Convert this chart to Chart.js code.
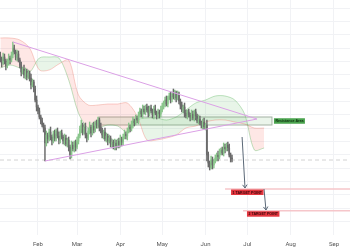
<!DOCTYPE html>
<html>
<head>
<meta charset="utf-8">
<script src="https://cdn.jsdelivr.net/npm/chart.js@4.4.1/dist/chart.umd.min.js"></script>
<style>
    html, body { margin: 0; padding: 0; background: #fff; }
    #wrap { width: 350px; height: 250px; }
</style>
</head>
<body>
<div id="wrap"><canvas id="chart"></canvas></div>
<script>
// Axe du temps (jour de l'année)
const monthLabels = ['Feb', 'Mar', 'Apr', 'May', 'Jun', 'Jul', 'Aug', 'Sep'];
const monthDays = [31, 59, 90, 120, 151, 181, 212, 243];
const viewFrom = 3.8;
const viewTo = 254.5;
const priceMin = 0;
const priceMax = 235;
const priceStep = 13.35;

// Bougies journalières
const firstDay = 4;
const firstOpen = 180;
const closes = [
    176, 172, 178, 174, 169, 173, 177, 175, 180, 187,
    183, 178, 181, 175, 170, 163, 166, 160, 164, 158,
    162, 157, 150, 153, 146, 135, 128, 124, 118, 114,
    110, 107, 92, 100, 96, 103, 98, 94, 101, 97,
    104, 99, 95, 102, 98, 94, 97, 91, 95, 88,
    80, 90, 86, 92, 88, 94, 99, 106, 110, 103,
    108, 100, 97, 104, 108, 102, 109, 105, 112, 110,
    115, 108, 104, 100, 103, 96, 99, 94, 97, 91,
    93, 88, 92, 89, 94, 90, 96, 93, 98, 101,
    99, 104, 108, 106, 111, 114, 112, 117, 115, 120,
    124, 121, 126, 123, 128, 125, 122, 127, 124, 120,
    126, 122, 119, 123, 121, 125, 129, 132, 135, 131,
    137, 139, 136, 141, 138, 142, 137, 140, 134, 130,
    125, 128, 122, 119, 123, 120, 118, 121, 117, 123,
    119, 114, 116, 112, 110, 113, 108, 110, 80, 72,
    68, 75, 70, 74, 77, 80, 78, 83, 85, 82,
    88, 86, 90, 87, 80, 77, 76
];
const wickHi = [
    3, 2, 4, 3, 2, 3, 4, 2, 3, 6,
    3, 2, 4, 3, 2, 3, 2, 4, 3, 2,
    3, 2, 4, 3, 2, 3, 4, 2, 3, 2,
    3, 2, 3, 4, 2, 3, 5, 2, 3, 4,
    2, 3, 4, 2, 3, 2, 4, 3, 2, 3,
    2, 4, 3, 2, 3, 4, 2, 3, 5, 2,
    3, 4, 2, 3, 5, 2, 3, 4, 2, 3,
    3, 2, 4, 3, 2, 4, 3, 2, 3, 2,
    3, 2, 4, 3, 2, 3, 4, 2, 3, 4,
    2, 3, 4, 2, 3, 4, 2, 3, 2, 3,
    3, 2, 4, 3, 2, 3, 4, 2, 3, 2,
    3, 4, 2, 3, 2, 4, 3, 2, 3, 4,
    2, 3, 4, 2, 5, 3, 2, 4, 3, 2,
    3, 2, 4, 3, 2, 3, 2, 4, 3, 2,
    3, 2, 4, 3, 2, 3, 4, 2, 5, 3,
    2, 4, 3, 2, 3, 2, 4, 3, 2, 3,
    4, 3, 2, 3, 4, 2, 3
];
const wickLo = [
    3, 4, 2, 3, 4, 2, 3, 4, 2, 3,
    2, 3, 4, 2, 3, 4, 2, 3, 4, 3,
    2, 3, 4, 2, 3, 2, 4, 3, 2, 3,
    2, 4, 18, 3, 4, 2, 3, 4, 2, 3,
    3, 2, 4, 3, 2, 3, 4, 2, 3, 4,
    4, 3, 2, 3, 4, 2, 3, 2, 4, 3,
    2, 3, 4, 2, 3, 4, 2, 3, 2, 3,
    3, 4, 2, 3, 4, 2, 3, 4, 2, 3,
    4, 2, 3, 4, 2, 3, 2, 4, 3, 2,
    3, 4, 2, 3, 2, 4, 3, 2, 3, 4,
    2, 3, 4, 2, 3, 2, 4, 3, 2, 3,
    4, 2, 3, 2, 4, 3, 2, 3, 4, 2,
    3, 2, 4, 3, 2, 3, 4, 2, 3, 4,
    2, 3, 4, 2, 3, 2, 4, 3, 2, 3,
    4, 2, 3, 2, 3, 4, 2, 3, 6, 4,
    3, 2, 4, 3, 2, 3, 4, 2, 3, 2,
    3, 4, 2, 3, 2, 4, 3
];

// Nuage Ichimoku (hebdo)
const cloudDays = [4, 11, 18, 25, 32, 39, 46, 53, 60, 67, 74, 81, 88, 95, 102, 109, 116, 123, 130, 137, 144, 151, 158, 165, 172, 179, 186, 193];
const spanA = [167, 170, 167, 163, 177, 178, 177, 155, 122, 107, 107, 110, 109, 103, 115, 117, 117, 115, 118, 125, 132, 135, 139, 139, 135, 121, 85, 87];
const spanB = [197, 197, 195, 187, 165, 165, 171, 175, 140, 130, 130, 131, 131, 132, 119, 95, 95, 97, 100, 107, 109, 113, 115, 115, 113, 111, 107, 107];

// Triangle et niveaux
const triangleTopDays = [13.1, 187.9];
const triangleTopPrices = [193, 116];
const triangleBottomDays = [36, 187.9];
const triangleBottomPrices = [74, 116];
const supportPrice = 75;
const resistanceDays = [74.7, 198.6];
const resistancePrices = [110, 118];
const resistanceLabel = 'Resistance Area';

const targetLabels = ['1 TARGET POINT', '2 TARGET POINT'];
const targetPrices = [46, 24.3];
const targetLineStart = [165, 177.9];
const targetLabelDay = [169.3, 180.7];
const arrowFrom = [[177.2, 98], [192.9, 46]];
const arrowTo = [[179.3, 47], [194.3, 25]];

const upColor = '#8ac68c';
const downColor = '#6a6a6a';

// Construction des bougies
const wickData = [];
const bodyData = [];
const candleColors = [];
closes.forEach((c, i) => {
    const o = i === 0 ? firstOpen : closes[i - 1];
    const day = firstDay + i;
    wickData.push({ x: day, y: [Math.min(o, c) - wickLo[i], Math.max(o, c) + wickHi[i]] });
    bodyData.push({ x: day, y: [o, c] });
    candleColors.push(c >= o ? upColor : downColor);
});

function pts(days, prices) {
    return days.map((d, i) => ({ x: d, y: prices[i] }));
}

function drawTag(ctx, text, left, top, fill, color, font) {
    ctx.font = font;
    const w = ctx.measureText(text).width + 3;
    ctx.fillStyle = fill;
    ctx.fillRect(left, top, w, 5.5);
    ctx.fillStyle = color;
    ctx.textBaseline = 'middle';
    ctx.textAlign = 'left';
    ctx.fillText(text, left + 1.5, top + 3);
}

const overlayPlugin = {
    id: 'overlay',
    beforeDatasetsDraw(chart) {
        const { ctx, scales: { x, y } } = chart;
        const x0 = x.getPixelForValue(resistanceDays[0]);
        const x1 = x.getPixelForValue(resistanceDays[1]);
        const yTop = y.getPixelForValue(resistancePrices[1]);
        const yBot = y.getPixelForValue(resistancePrices[0]);
        ctx.save();
        ctx.fillStyle = 'rgba(210,232,210,0.45)';
        ctx.fillRect(x0, yTop, x1 - x0, yBot - yTop);
        ctx.strokeStyle = '#a3b2a3';
        ctx.lineWidth = 1;
        ctx.strokeRect(x0, yTop, x1 - x0, yBot - yTop);
        ctx.restore();
    },
    afterDatasetsDraw(chart) {
        const { ctx, scales: { x, y } } = chart;
        ctx.save();
        // Flèches
        ctx.strokeStyle = '#5b6877';
        ctx.lineWidth = 1;
        arrowFrom.forEach((from, i) => {
            const ax = x.getPixelForValue(from[0]), ay = y.getPixelForValue(from[1]);
            const bx = x.getPixelForValue(arrowTo[i][0]), by = y.getPixelForValue(arrowTo[i][1]);
            const ang = Math.atan2(by - ay, bx - ax);
            ctx.beginPath();
            ctx.moveTo(ax, ay);
            ctx.lineTo(bx, by);
            ctx.moveTo(bx - 4 * Math.cos(ang - 0.6), by - 4 * Math.sin(ang - 0.6));
            ctx.lineTo(bx, by);
            ctx.lineTo(bx - 4 * Math.cos(ang + 0.6), by - 4 * Math.sin(ang + 0.6));
            ctx.stroke();
        });
        // Étiquettes
        const font = 'bold 3.6px "Liberation Sans"';
        targetLabels.forEach((t, i) => {
            drawTag(ctx, t, x.getPixelForValue(targetLabelDay[i]), y.getPixelForValue(targetPrices[i]) + 0.5,
                '#e3363f', '#3a0508', font);
        });
        const ry = (y.getPixelForValue(resistancePrices[0]) + y.getPixelForValue(resistancePrices[1])) / 2;
        drawTag(ctx, resistanceLabel, x.getPixelForValue(resistanceDays[1]) + 2, ry - 2.75,
            '#4aa34e', '#0f2e10', font);
        ctx.restore();
    }
};

const datasets = [
    {
        type: 'bar', data: bodyData, backgroundColor: candleColors,
        barThickness: 1, borderWidth: 0, order: 3
    },
    {
        type: 'bar', data: wickData, backgroundColor: candleColors,
        barThickness: 0.8, borderWidth: 0, order: 4
    },
    {
        type: 'line', data: pts(cloudDays, spanA), borderColor: 'rgba(76,175,80,0.35)', borderWidth: 1,
        pointRadius: 0, tension: 0.3,
        fill: { target: '+1', above: 'rgba(76,175,80,0.13)', below: 'rgba(244,67,54,0.13)' }, order: 10
    },
    {
        type: 'line', data: pts(cloudDays, spanB), borderColor: 'rgba(244,67,54,0.25)', borderWidth: 1,
        pointRadius: 0, tension: 0.3, fill: false, order: 11
    },
    {
        type: 'line', data: pts([viewFrom, viewTo], [supportPrice, supportPrice]), borderColor: '#d2d2d2',
        borderWidth: 1, borderDash: [4, 3], pointRadius: 0, fill: false, order: 6
    },
    {
        type: 'line', data: pts(triangleTopDays, triangleTopPrices), borderColor: '#dba0e6',
        borderWidth: 1, pointRadius: 0, fill: false, order: 1
    },
    {
        type: 'line', data: pts(triangleBottomDays, triangleBottomPrices), borderColor: '#dba0e6',
        borderWidth: 1, pointRadius: 0, fill: false, order: 1
    }
];
targetPrices.forEach((p, i) => {
    datasets.push({
        type: 'line', data: pts([targetLineStart[i], viewTo], [p, p]), borderColor: '#f6c6ca',
        borderWidth: 1.5, pointRadius: 0, fill: false, order: 2
    });
});

new Chart(document.getElementById('chart'), {
    type: 'bar',
    data: { datasets: datasets },
    plugins: [overlayPlugin],
    options: {
        responsive: true,
        maintainAspectRatio: false,
        animation: false,
        layout: { padding: 0 },
        plugins: { legend: { display: false }, tooltip: { enabled: false } },
        datasets: { bar: { grouped: false } },
        scales: {
            x: {
                type: 'linear', min: viewFrom, max: viewTo, offset: false,
                grid: { color: '#f1f2f5', drawTicks: false, offset: false },
                border: { display: false },
                afterBuildTicks: axis => { axis.ticks = monthDays.map(v => ({ value: v })); },
                afterFit: axis => { axis.height = 15; },
                ticks: {
                    padding: 6, color: '#555', font: { family: 'Roboto', size: 6 },
                    maxRotation: 0, autoSkip: false,
                    callback: (v) => monthLabels[monthDays.indexOf(v)]
                }
            },
            y: {
                type: 'linear', min: priceMin, max: priceMax,
                grid: { color: '#f1f2f5', drawTicks: false },
                border: { display: false },
                afterBuildTicks: axis => {
                    const t = [];
                    for (let v = priceStep; v < priceMax; v += priceStep) t.push({ value: v });
                    axis.ticks = t;
                },
                ticks: { display: false }
            }
        }
    }
});
</script>
</body>
</html>
